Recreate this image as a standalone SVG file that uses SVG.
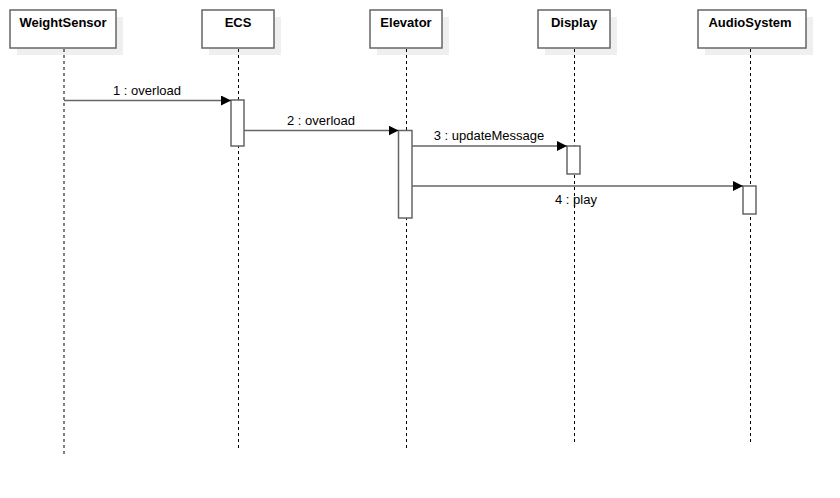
<svg xmlns="http://www.w3.org/2000/svg" width="840" height="498" viewBox="0 0 840 498">
<defs>
<style>
.shadow{fill:#efefef;stroke:none}
.box{fill:#fff;stroke:#666;stroke-width:1.5}
.life{stroke:#000;stroke-width:1;stroke-dasharray:3 3;fill:none}
.act{fill:#fff;stroke:#666;stroke-width:1.5}
.msg{stroke:#666;stroke-width:1.5;fill:none}
.hd{font-family:"Liberation Sans",Arial,sans-serif;font-size:13px;font-weight:bold;text-anchor:middle;fill:#000}
.lb{font-family:"Liberation Sans",Arial,sans-serif;font-size:13px;text-anchor:middle;fill:#000}
</style>
<marker id="arr" viewBox="0 0 10 10" refX="10" refY="5" markerWidth="10" markerHeight="10" markerUnits="userSpaceOnUse" orient="auto">
<path d="M0,0 L10,5 L0,10 z" fill="#000"/>
</marker>
</defs>
<rect width="840" height="498" fill="#fff"/>
<g id="WeightSensor">
<rect class="shadow" x="17" y="17" width="106" height="38"/>
<rect class="box" x="10" y="10" width="106" height="38"/>
<text class="hd" x="63" y="27">WeightSensor</text>
<line class="life" x1="64" y1="49" x2="64" y2="455"/>
</g>
<g id="ECS">
<rect class="shadow" x="209" y="17" width="72" height="38"/>
<rect class="box" x="202" y="10" width="72" height="38"/>
<text class="hd" x="238" y="27">ECS</text>
<line class="life" x1="238.5" y1="49" x2="238.5" y2="449"/>
<rect class="act" x="231" y="100" width="13" height="46"/>
</g>
<g id="Elevator">
<rect class="shadow" x="377" y="17" width="72" height="38"/>
<rect class="box" x="370" y="10" width="72" height="38"/>
<text class="hd" x="406" y="27">Elevator</text>
<line class="life" x1="406.5" y1="49" x2="406.5" y2="449"/>
<rect class="act" x="398.5" y="130.5" width="13.5" height="87.5"/>
</g>
<g id="Display">
<rect class="shadow" x="545" y="17" width="72" height="38"/>
<rect class="box" x="538" y="10" width="72" height="38"/>
<text class="hd" x="574" y="27">Display</text>
<line class="life" x1="574.5" y1="49" x2="574.5" y2="442"/>
<rect class="act" x="567" y="146" width="13" height="28"/>
</g>
<g id="AudioSystem">
<rect class="shadow" x="705" y="17" width="108" height="38"/>
<rect class="box" x="698" y="10" width="108" height="38"/>
<text class="hd" x="750" y="27">AudioSystem</text>
<line class="life" x1="750.5" y1="49" x2="750.5" y2="442"/>
<rect class="act" x="743" y="186" width="13" height="28"/>
</g>
<g id="connectors">
<line class="msg" x1="64" y1="100.5" x2="231" y2="100.5" marker-end="url(#arr)"/>
<text class="lb" x="147" y="95">1 : overload</text>
<line class="msg" x1="244" y1="130.5" x2="398.5" y2="130.5" marker-end="url(#arr)"/>
<text class="lb" x="321" y="125">2 : overload</text>
<line class="msg" x1="412" y1="146" x2="567" y2="146" marker-end="url(#arr)"/>
<text class="lb" x="489" y="140">3 : updateMessage</text>
<line class="msg" x1="412" y1="186" x2="743" y2="186" marker-end="url(#arr)"/>
<text class="lb" x="576" y="204">4 : play</text>
</g>
</svg>
